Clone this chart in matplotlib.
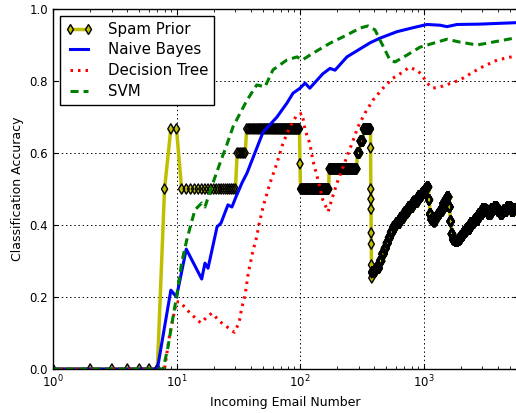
import numpy as np
import matplotlib
matplotlib.use("Agg")
import matplotlib.pyplot as plt
import matplotlib.ticker as mticker
from matplotlib.lines import Line2D

# spam prior: value held from each start email until the next start
sp_start = [1, 8, 9, 11, 31, 37, 100, 101, 172, 290, 306, 326,
            373, 374, 375, 376, 377, 378, 379, 380, 381,
            382, 410, 440, 460, 482, 500, 520, 540, 566, 597,
            646, 696, 752, 822, 905, 972, 1030, 1067, 1100, 1120,
            1150, 1194, 1250, 1300, 1360, 1438, 1500, 1549, 1600, 1640,
            1680, 1720, 1800, 1906, 2000, 2100, 2218, 2391, 2580, 2782,
            3001, 3174, 3328, 3537, 3740, 3954, 4160, 4400, 4745, 5117,
            5412]
sp_level = [0, 0.5, 0.667, 0.5, 0.6, 0.667, 0.57, 0.5, 0.556, 0.6, 0.633, 0.667,
            0.614, 0.5, 0.472, 0.444, 0.378, 0.347, 0.289, 0.267, 0.253,
            0.27, 0.28, 0.30, 0.32, 0.335, 0.35, 0.365, 0.38, 0.395, 0.405,
            0.42, 0.435, 0.45, 0.465, 0.48, 0.49, 0.50, 0.506, 0.47, 0.43,
            0.415, 0.41, 0.42, 0.43, 0.44, 0.46, 0.47, 0.478, 0.45, 0.41,
            0.375, 0.36, 0.355, 0.36, 0.37, 0.38, 0.39, 0.405, 0.415, 0.43,
            0.445, 0.44, 0.43, 0.445, 0.45, 0.44, 0.432, 0.44, 0.45, 0.44,
            0.445]
n_emails = 5610

nb_n = [1, 7, 9, 10, 12, 16, 17, 18, 21.3, 22.9, 26.1, 28.1, 30.3, 33.9, 37.2, 40.9,
        50.2, 65.1, 78.5, 87.7, 100, 110, 120, 153, 175, 192, 240, 369, 444, 610,
        822, 1067, 1360, 1549, 1867, 2866, 5610]
nb_acc = [0, 0, 0.219, 0.2, 0.333, 0.25, 0.294, 0.28, 0.395, 0.405, 0.456, 0.45, 0.478,
          0.517, 0.544, 0.58, 0.658, 0.70, 0.739, 0.766, 0.78, 0.794, 0.78, 0.82, 0.835,
          0.83, 0.867, 0.906, 0.919, 0.937, 0.948, 0.957, 0.955, 0.951, 0.957, 0.958, 0.962]

dt_n = [1, 8, 8.85, 10, 10.7, 12.9, 15.7, 17.6, 19.3, 23.2, 29.4, 32.1, 33.7, 35.9, 38.1,
        41.4, 44.6, 46.8, 50.2, 57.1, 65.1, 72.8, 83, 94.6, 104, 110, 120, 127, 140, 153,
        169, 182, 199, 219, 240, 264, 295, 336, 390, 470, 566, 682, 763, 886, 972, 1067,
        1194, 1438, 1976, 2866, 3937, 5610]
dt_acc = [0, 0, 0.1, 0.187, 0.186, 0.155, 0.128, 0.144, 0.155, 0.128, 0.102, 0.128, 0.169,
          0.205, 0.266, 0.325, 0.367, 0.405, 0.45, 0.516, 0.572, 0.627, 0.673, 0.706, 0.71,
          0.664, 0.627, 0.58, 0.525, 0.47, 0.437, 0.474, 0.516, 0.553, 0.59, 0.627, 0.673,
          0.711, 0.747, 0.78, 0.808, 0.825, 0.838, 0.83, 0.817, 0.794, 0.78, 0.786, 0.803,
          0.836, 0.858, 0.87]

svm_n = [1, 7.8, 8.53, 9.37, 10, 11, 12.1, 12.9, 14.1, 16, 17, 19.7, 22.5, 25.5, 28.7,
         32.7, 37, 44.6, 52.1, 60.4, 78, 94.6, 104, 127, 175, 240, 306, 355, 405, 444,
         488, 535, 588, 735, 937, 1286, 1549, 1976, 2711, 3266, 5610]
svm_acc = [0, 0, 0.061, 0.144, 0.2, 0.294, 0.358, 0.394, 0.442, 0.461, 0.45, 0.516, 0.572,
           0.622, 0.673, 0.71, 0.745, 0.789, 0.784, 0.831, 0.858, 0.867, 0.858, 0.877,
           0.905, 0.928, 0.947, 0.953, 0.942, 0.914, 0.886, 0.858, 0.853, 0.872, 0.894,
           0.908, 0.916, 0.908, 0.9, 0.905, 0.92]

plt.rcParams["lines.scale_dashes"] = False
plt.rcParams["font.family"] = "DejaVu Sans"
plt.rcParams["mathtext.fontset"] = "dejavusans"

fig = plt.figure(figsize=(5.16, 4.13), dpi=100)
ax = fig.add_axes([53 / 516, 44 / 413, 465 / 516, 360 / 413])

runs = np.diff(sp_start + [n_emails + 1])
sp_acc = np.repeat(sp_level, runs)
sp_n = np.arange(1, n_emails + 1)

yel = (0.75, 0.75, 0)
ms, mew = 5.2, 1.0
# fills first, all outlines afterwards: dense runs turn black as in the original
ax.plot(sp_n, sp_acc, color=yel, linewidth=2.5, marker="d", markersize=ms,
        markerfacecolor=yel, markeredgecolor="none", zorder=2)
# outlines as a plain collection (one colour per point) so they keep sub-pixel positions
ax.scatter(sp_n, sp_acc, s=ms ** 2, marker="d", facecolor="none",
           edgecolor=["k"] * len(sp_n), linewidths=mew, zorder=2.05)
sp_handle = Line2D([], [], color=yel, linewidth=2.5, marker="d", markersize=ms,
                   markerfacecolor=yel, markeredgecolor="k", markeredgewidth=mew)

nb_line, = ax.plot(nb_n, nb_acc, color="b", linewidth=2.2, zorder=2.1)
dt_line, = ax.plot(dt_n, dt_acc, color="r", linewidth=2.2, linestyle=(0, (1.8, 3.6)), zorder=2.1)
svm_line, = ax.plot(svm_n, svm_acc, color="g", linewidth=2.2, linestyle=(0, (5.8, 3.6)), zorder=2.1)

ax.set_xscale("log")
ax.set_xlim(1, 10 ** ((518 - 53) / 123.5))
ax.set_ylim(0, 1)
ax.yaxis.set_major_locator(mticker.MultipleLocator(0.2))
ax.yaxis.set_major_formatter(mticker.FormatStrFormatter("%.1f"))
ax.set_axisbelow(True)
ax.grid(True, which="major", color="k", linestyle=(0, (1, 2)), linewidth=0.7)
ax.tick_params(which="both", direction="in", top=True, right=True, labelsize=8.5, pad=3.5)
ax.tick_params(which="major", length=3.6)
ax.tick_params(which="minor", length=2.2)
for s in ax.spines.values():
    s.set_linewidth(1.0)

ax.set_xlabel("Incoming Email Number", fontsize=9)
ax.set_ylabel("Classification Accuracy", fontsize=9)

leg = ax.legend([sp_handle, nb_line, dt_line, svm_line],
                ["Spam Prior", "Naive Bayes", "Decision Tree", "SVM"],
                loc="upper left", fontsize=10.8, numpoints=2, fancybox=False, framealpha=1,
                edgecolor="k", borderpad=0.4, labelspacing=0.38, handlelength=1.8,
                handletextpad=1.0, borderaxespad=0.45)
leg.get_frame().set_linewidth(1.0)

fig.savefig("out.png", dpi=100)
